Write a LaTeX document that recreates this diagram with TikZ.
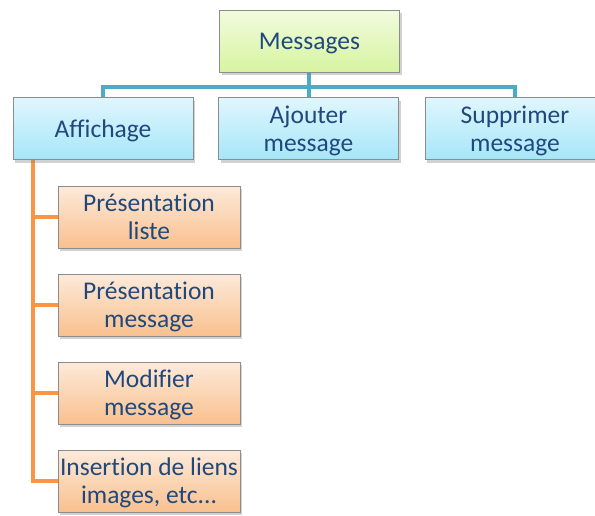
\documentclass[tikz,border=0pt]{standalone}
\usepackage{fontspec}
\setmainfont[Ligatures={NoCommon}]{Carlito}
\usetikzlibrary{shadows}
\definecolor{txt}{HTML}{1F497D}
\definecolor{bord}{HTML}{8C8C8C}
\definecolor{bline}{HTML}{4BACC6}
\definecolor{oline}{HTML}{F79646}
\tikzset{
  box/.style={draw=bord, line width=0.8pt, minimum width=180pt, minimum height=62pt,
    align=center, text=txt, font=\fontsize{25.5}{28}\selectfont, inner sep=0pt, text depth=0pt,
    drop shadow={opacity=0.35, shadow xshift=2pt, shadow yshift=-3pt}},
  greenbox/.style={box, top color={rgb,255:red,242;green,251;blue,222}, bottom color={rgb,255:red,214;green,244;blue,160}},
  bluebox/.style={box, top color={rgb,255:red,224;green,246;blue,253}, bottom color={rgb,255:red,166;green,230;blue,249}},
  orangebox/.style={box, top color={rgb,255:red,253;green,234;blue,218}, bottom color={rgb,255:red,249;green,192;blue,142}},
  bconn/.style={draw=bline, line width=4pt},
  oconn/.style={draw=oline, line width=3.5pt}
}
\begin{document}
\begin{tikzpicture}[x=1pt,y=-1pt]
\clip (0,0) rectangle (595,515);
\fill[white] (0,0) rectangle (595,515);
\coordinate (bus) at (309,87);
\coordinate (ob) at (33,160);
\draw[bconn] (103,97) |- (bus) -| (515,97);
\draw[bconn] (309,72) -- (309,97);
\draw[oconn] (ob) -- (33,481) -- (58,481);
\foreach \y in {217,305,393} \draw[oconn] (33,\y) -- (58,\y);
\node[greenbox] (msg) at (309.5,41) {Messages};
\node[bluebox] (aff) at (103,128.5) {Affichage};
\node[bluebox] (ajo) at (308.5,128.5) {Ajouter\\message};
\node[bluebox] (sup) at (515,128.5) {Supprimer\\message};
\node[orangebox, minimum width=182pt] (c1) at (149,217) {Présentation\\liste};
\node[orangebox, minimum width=182pt] (c2) at (149,305) {Présentation\\message};
\node[orangebox, minimum width=182pt] (c3) at (149,393) {Modifier\\message};
\node[orangebox, minimum width=182pt] (c4) at (149,481) {Insertion de liens\\images, etc...};
\end{tikzpicture}
\end{document}
